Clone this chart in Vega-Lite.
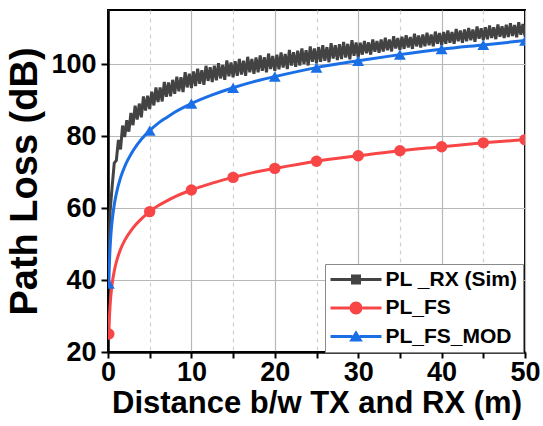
{
  "$schema": "https://vega.github.io/schema/vega-lite/v6.json",
  "width": 417,
  "height": 342,
  "autosize": {"type": "none"},
  "padding": {"left": 108, "top": 10, "right": 18, "bottom": 74},
  "background": "white",
  "config": {"view": {"stroke": "black", "strokeWidth": 2}, "font": "Liberation Sans"},
  "datasets": {
    "sim": [
      {"x": 0.1, "y": 47}, {"x": 0.25, "y": 59}, {"x": 0.5, "y": 66}, {"x": 0.75, "y": 72.5},
      {"x": 1.0, "y": 73.2}, {"x": 1.25, "y": 78.9}, {"x": 1.5, "y": 76.3}, {"x": 1.75, "y": 82.9},
      {"x": 2.0, "y": 79.7}, {"x": 2.25, "y": 84.4}, {"x": 2.5, "y": 81.2}, {"x": 2.75, "y": 86.4},
      {"x": 3.0, "y": 83.0}, {"x": 3.25, "y": 88.4}, {"x": 3.5, "y": 84.6}, {"x": 3.75, "y": 89.0},
      {"x": 4.0, "y": 85.2}, {"x": 4.25, "y": 91.0}, {"x": 4.5, "y": 87.1}, {"x": 4.75, "y": 91.2},
      {"x": 5.0, "y": 87.5}, {"x": 5.25, "y": 92.3}, {"x": 5.5, "y": 88.5}, {"x": 5.75, "y": 93.5},
      {"x": 6.0, "y": 89.4}, {"x": 6.25, "y": 93.5}, {"x": 6.5, "y": 89.6}, {"x": 6.75, "y": 95.0},
      {"x": 7.0, "y": 90.9}, {"x": 7.25, "y": 94.9}, {"x": 7.5, "y": 91.0}, {"x": 7.75, "y": 95.6},
      {"x": 8.0, "y": 91.7}, {"x": 8.25, "y": 96.5}, {"x": 8.5, "y": 92.4}, {"x": 8.75, "y": 96.3},
      {"x": 9.0, "y": 92.2}, {"x": 9.25, "y": 97.7}, {"x": 9.5, "y": 93.5}, {"x": 9.75, "y": 97.3},
      {"x": 10.0, "y": 93.3}, {"x": 10.25, "y": 97.9}, {"x": 10.5, "y": 93.9}, {"x": 10.75, "y": 98.7},
      {"x": 11.0, "y": 94.5}, {"x": 11.25, "y": 98.3}, {"x": 11.5, "y": 94.2}, {"x": 11.75, "y": 99.5},
      {"x": 12.0, "y": 95.3}, {"x": 12.25, "y": 99.1}, {"x": 12.5, "y": 95.0}, {"x": 12.75, "y": 99.5},
      {"x": 13.0, "y": 95.5}, {"x": 13.25, "y": 100.2}, {"x": 13.5, "y": 96.0}, {"x": 13.75, "y": 99.7},
      {"x": 14.0, "y": 95.6}, {"x": 14.25, "y": 101.0}, {"x": 14.5, "y": 96.6}, {"x": 14.75, "y": 100.4},
      {"x": 15.0, "y": 96.3}, {"x": 15.25, "y": 100.8}, {"x": 15.5, "y": 96.7}, {"x": 15.75, "y": 101.4},
      {"x": 16.0, "y": 97.1}, {"x": 16.25, "y": 100.9}, {"x": 16.5, "y": 96.7}, {"x": 16.75, "y": 102.0},
      {"x": 17.0, "y": 97.7}, {"x": 17.25, "y": 101.4}, {"x": 17.5, "y": 97.3}, {"x": 17.75, "y": 101.8},
      {"x": 18.0, "y": 97.7}, {"x": 18.25, "y": 102.4}, {"x": 18.5, "y": 98.1}, {"x": 18.75, "y": 101.9},
      {"x": 19.0, "y": 97.7}, {"x": 19.25, "y": 102.9}, {"x": 19.5, "y": 98.6}, {"x": 19.75, "y": 102.2},
      {"x": 20.0, "y": 98.1}, {"x": 20.25, "y": 102.6}, {"x": 20.5, "y": 98.5}, {"x": 20.75, "y": 103.2},
      {"x": 21.0, "y": 99.0}, {"x": 21.25, "y": 102.8}, {"x": 21.5, "y": 98.6}, {"x": 21.75, "y": 103.9},
      {"x": 22.0, "y": 99.6}, {"x": 22.25, "y": 103.3}, {"x": 22.5, "y": 99.2}, {"x": 22.75, "y": 103.7},
      {"x": 23.0, "y": 99.6}, {"x": 23.25, "y": 104.3}, {"x": 23.5, "y": 100.0}, {"x": 23.75, "y": 103.8},
      {"x": 24.0, "y": 99.6}, {"x": 24.25, "y": 104.9}, {"x": 24.5, "y": 100.6}, {"x": 24.75, "y": 104.3},
      {"x": 25.0, "y": 100.2}, {"x": 25.25, "y": 104.7}, {"x": 25.5, "y": 100.6}, {"x": 25.75, "y": 105.2},
      {"x": 26.0, "y": 100.9}, {"x": 26.25, "y": 104.7}, {"x": 26.5, "y": 100.5}, {"x": 26.75, "y": 105.8},
      {"x": 27.0, "y": 101.5}, {"x": 27.25, "y": 105.2}, {"x": 27.5, "y": 101.1}, {"x": 27.75, "y": 105.5},
      {"x": 28.0, "y": 101.4}, {"x": 28.25, "y": 106.1}, {"x": 28.5, "y": 101.8}, {"x": 28.75, "y": 105.6},
      {"x": 29.0, "y": 101.3}, {"x": 29.25, "y": 106.6}, {"x": 29.5, "y": 102.3}, {"x": 29.75, "y": 106.0},
      {"x": 30.0, "y": 101.8}, {"x": 30.25, "y": 105.9}, {"x": 30.5, "y": 102.6}, {"x": 30.75, "y": 106.4},
      {"x": 31.0, "y": 103.0}, {"x": 31.25, "y": 106.0}, {"x": 31.5, "y": 102.6}, {"x": 31.75, "y": 106.8},
      {"x": 32.0, "y": 103.4}, {"x": 32.25, "y": 106.4}, {"x": 32.5, "y": 103.1}, {"x": 32.75, "y": 106.8},
      {"x": 33.0, "y": 103.5}, {"x": 33.25, "y": 107.3}, {"x": 33.5, "y": 103.8}, {"x": 33.75, "y": 106.8},
      {"x": 34.0, "y": 103.5}, {"x": 34.25, "y": 107.7}, {"x": 34.5, "y": 104.3}, {"x": 34.75, "y": 107.2},
      {"x": 35.0, "y": 103.9}, {"x": 35.25, "y": 107.6}, {"x": 35.5, "y": 104.2}, {"x": 35.75, "y": 108.0},
      {"x": 36.0, "y": 104.6}, {"x": 36.25, "y": 107.5}, {"x": 36.5, "y": 104.2}, {"x": 36.75, "y": 108.4},
      {"x": 37.0, "y": 104.9}, {"x": 37.25, "y": 107.9}, {"x": 37.5, "y": 104.6}, {"x": 37.75, "y": 108.2},
      {"x": 38.0, "y": 104.9}, {"x": 38.25, "y": 108.7}, {"x": 38.5, "y": 105.2}, {"x": 38.75, "y": 108.2},
      {"x": 39.0, "y": 104.9}, {"x": 39.25, "y": 109.0}, {"x": 39.5, "y": 105.6}, {"x": 39.75, "y": 108.6},
      {"x": 40.0, "y": 105.2}, {"x": 40.25, "y": 108.9}, {"x": 40.5, "y": 105.6}, {"x": 40.75, "y": 109.3},
      {"x": 41.0, "y": 105.9}, {"x": 41.25, "y": 108.9}, {"x": 41.5, "y": 105.6}, {"x": 41.75, "y": 109.7},
      {"x": 42.0, "y": 106.3}, {"x": 42.25, "y": 109.3}, {"x": 42.5, "y": 105.9}, {"x": 42.75, "y": 109.6},
      {"x": 43.0, "y": 106.3}, {"x": 43.25, "y": 110.0}, {"x": 43.5, "y": 106.6}, {"x": 43.75, "y": 109.6},
      {"x": 44.0, "y": 106.2}, {"x": 44.25, "y": 110.4}, {"x": 44.5, "y": 107.0}, {"x": 44.75, "y": 109.9},
      {"x": 45.0, "y": 106.6}, {"x": 45.25, "y": 110.2}, {"x": 45.5, "y": 106.9}, {"x": 45.75, "y": 110.7},
      {"x": 46.0, "y": 107.2}, {"x": 46.25, "y": 110.2}, {"x": 46.5, "y": 106.9}, {"x": 46.75, "y": 111.0},
      {"x": 47.0, "y": 107.6}, {"x": 47.25, "y": 110.5}, {"x": 47.5, "y": 107.2}, {"x": 47.75, "y": 110.9},
      {"x": 48.0, "y": 107.5}, {"x": 48.25, "y": 111.3}, {"x": 48.5, "y": 107.8}, {"x": 48.75, "y": 110.8},
      {"x": 49.0, "y": 107.4}, {"x": 49.25, "y": 111.6}, {"x": 49.5, "y": 108.1}, {"x": 49.75, "y": 111.1},
      {"x": 50.0, "y": 107.7}
    ],
    "model": [
      {"x": 0.1, "y": 25.0, "s": "PL_FS"}, {"x": 0.15, "y": 28.5, "s": "PL_FS"}, {"x": 0.2, "y": 31.0, "s": "PL_FS"},
      {"x": 0.3, "y": 34.5, "s": "PL_FS"}, {"x": 0.4, "y": 37.0, "s": "PL_FS"}, {"x": 0.5, "y": 39.0, "s": "PL_FS"},
      {"x": 0.75, "y": 42.5, "s": "PL_FS"}, {"x": 1, "y": 45.0, "s": "PL_FS"}, {"x": 1.5, "y": 48.5, "s": "PL_FS"},
      {"x": 2, "y": 51.0, "s": "PL_FS"}, {"x": 3, "y": 54.5, "s": "PL_FS"}, {"x": 4, "y": 57.0, "s": "PL_FS"},
      {"x": 5, "y": 59.0, "s": "PL_FS"}, {"x": 6, "y": 60.6, "s": "PL_FS"}, {"x": 7, "y": 61.9, "s": "PL_FS"},
      {"x": 8, "y": 63.1, "s": "PL_FS"}, {"x": 10, "y": 65.0, "s": "PL_FS"}, {"x": 12.5, "y": 66.9, "s": "PL_FS"},
      {"x": 15, "y": 68.5, "s": "PL_FS"}, {"x": 17.5, "y": 69.9, "s": "PL_FS"}, {"x": 20, "y": 71.0, "s": "PL_FS"},
      {"x": 25, "y": 73.0, "s": "PL_FS"}, {"x": 30, "y": 74.5, "s": "PL_FS"}, {"x": 35, "y": 75.9, "s": "PL_FS"},
      {"x": 40, "y": 77.0, "s": "PL_FS"}, {"x": 45, "y": 78.1, "s": "PL_FS"}, {"x": 50, "y": 79.0, "s": "PL_FS"},
      {"x": 0.1, "y": 39.0, "s": "PL_FS_MOD"}, {"x": 0.15, "y": 43.4, "s": "PL_FS_MOD"}, {"x": 0.2, "y": 46.5, "s": "PL_FS_MOD"},
      {"x": 0.3, "y": 50.9, "s": "PL_FS_MOD"}, {"x": 0.4, "y": 54.1, "s": "PL_FS_MOD"}, {"x": 0.5, "y": 56.5, "s": "PL_FS_MOD"},
      {"x": 0.75, "y": 60.9, "s": "PL_FS_MOD"}, {"x": 1, "y": 64.0, "s": "PL_FS_MOD"}, {"x": 1.5, "y": 68.4, "s": "PL_FS_MOD"},
      {"x": 2, "y": 71.5, "s": "PL_FS_MOD"}, {"x": 3, "y": 75.9, "s": "PL_FS_MOD"}, {"x": 4, "y": 79.1, "s": "PL_FS_MOD"},
      {"x": 5, "y": 81.5, "s": "PL_FS_MOD"}, {"x": 6, "y": 83.5, "s": "PL_FS_MOD"}, {"x": 7, "y": 85.1, "s": "PL_FS_MOD"},
      {"x": 8, "y": 86.6, "s": "PL_FS_MOD"}, {"x": 10, "y": 89.0, "s": "PL_FS_MOD"}, {"x": 12.5, "y": 91.4, "s": "PL_FS_MOD"},
      {"x": 15, "y": 93.4, "s": "PL_FS_MOD"}, {"x": 17.5, "y": 95.1, "s": "PL_FS_MOD"}, {"x": 20, "y": 96.5, "s": "PL_FS_MOD"},
      {"x": 25, "y": 99.0, "s": "PL_FS_MOD"}, {"x": 30, "y": 100.9, "s": "PL_FS_MOD"}, {"x": 35, "y": 102.6, "s": "PL_FS_MOD"},
      {"x": 40, "y": 104.1, "s": "PL_FS_MOD"}, {"x": 45, "y": 105.3, "s": "PL_FS_MOD"}, {"x": 50, "y": 106.5, "s": "PL_FS_MOD"}
    ]
  },
  "layer": [
    {
      "data": {"name": "sim"},
      "mark": {"type": "line", "strokeWidth": 3, "clip": true},
      "encoding": {
        "x": {
          "field": "x", "type": "quantitative",
          "scale": {"domain": [0, 50], "nice": false},
          "axis": {
            "values": [0, 5, 10, 15, 20, 25, 30, 35, 40, 45, 50],
            "labelExpr": "datum.value % 10 == 0 ? datum.label : ''",
            "title": "Distance b/w TX and RX (m)",
            "grid": true,
            "gridColor": {"condition": {"test": "datum.value % 10 == 0", "value": "#b8b8b8"}, "value": "#d0d0d0"},
            "gridDash": {"condition": {"test": "datum.value % 10 == 0", "value": []}, "value": [4, 4]},
            "gridWidth": 1.2,
            "tickSize": 6, "tickWidth": 2, "tickColor": "black",
            "domainColor": "black", "domainWidth": 2.5,
            "labelFont": "Liberation Sans", "labelFontSize": 27, "labelFontWeight": "bold", "labelColor": "black",
            "labelPadding": 1, "labelFlush": false, "labelOverlap": false,
            "titleFont": "Liberation Sans", "titleFontSize": 31, "titleFontWeight": "bold", "titleColor": "black",
            "titlePadding": 3
          }
        },
        "y": {
          "field": "y", "type": "quantitative",
          "scale": {"domain": [20, 115], "nice": false, "zero": false},
          "axis": {
            "values": [20, 30, 40, 50, 60, 70, 80, 90, 100, 110],
            "labelExpr": "datum.value % 20 == 0 ? datum.label : ''",
            "title": "Path Loss (dB)",
            "grid": true,
            "gridColor": {"condition": {"test": "datum.value % 20 == 0", "value": "#b8b8b8"}, "value": "#d0d0d0"},
            "gridDash": {"condition": {"test": "datum.value % 20 == 0", "value": []}, "value": [4, 4]},
            "gridWidth": 1.2,
            "tickSize": 7, "tickWidth": 2, "tickColor": "black",
            "domainColor": "black", "domainWidth": 2.5,
            "labelFont": "Liberation Sans", "labelFontSize": 27, "labelFontWeight": "bold", "labelColor": "black",
            "labelPadding": 5, "labelOverlap": false,
            "titleFont": "Liberation Sans", "titleFontSize": 38, "titleFontWeight": "bold", "titleColor": "black",
            "titlePadding": 6
          }
        },
        "color": {
          "datum": "PL _RX (Sim)",
          "type": "nominal",
          "title": null,
          "scale": {"domain": ["PL _RX (Sim)", "PL_FS", "PL_FS_MOD"], "range": ["#434343", "#f84646", "#1b6fe6"]},
          "legend": {
            "orient": "none", "legendX": 217, "legendY": 254,
            "title": null,
            "fillColor": "white", "strokeColor": "#8a8a8a",
            "padding": 5,
            "symbolSize": 400,
            "symbolOffset": 15.5,
            "labelFont": "Liberation Sans", "labelFontSize": 21, "labelFontWeight": "bold", "labelColor": "black",
            "labelOffset": 19, "rowPadding": 6.5,
            "encode": {
              "symbols": {
                "update": {
                  "shape": {"signal": "datum.value == 'PL _RX (Sim)' ? 'M-2.55,-0.15H-0.5V0.15H-2.55Z M0.5,-0.15H2.55V0.15H0.5Z M-0.5,-0.5H0.5V0.5H-0.5Z' : datum.value == 'PL_FS' ? 'M-2.55,-0.15H-0.65V0.15H-2.55Z M0.65,-0.15H2.55V0.15H0.65Z M-0.65,0A0.65,0.65 0 1,0 0.65,0A0.65,0.65 0 1,0 -0.65,0Z' : 'M-2.55,-0.15H-0.35V0.15H-2.55Z M0.35,-0.15H2.55V0.15H0.35Z M0,-0.62L0.68,0.5L-0.68,0.5Z'"},
                  "fill": {"signal": "scale('color', datum.value)"},
                  "stroke": {"value": "transparent"},
                  "strokeWidth": {"value": 0},
                  "opacity": {"value": 1},
                  "size": {"value": 400}
                }
              }
            }
          }
        }
      }
    },
    {
      "data": {"name": "model"},
      "mark": {"type": "line", "strokeWidth": 3, "interpolate": "monotone", "clip": true},
      "encoding": {
        "x": {"field": "x", "type": "quantitative"},
        "y": {"field": "y", "type": "quantitative"},
        "color": {"field": "s", "type": "nominal", "title": null, "legend": null}
      }
    },
    {
      "data": {"name": "model"},
      "transform": [{"filter": "datum.s == 'PL_FS' && (datum.x == 0.1 || datum.x % 5 == 0)"}],
      "mark": {"type": "point", "shape": "circle", "filled": true, "opacity": 1, "size": 130, "clip": true},
      "encoding": {
        "x": {"field": "x", "type": "quantitative"},
        "y": {"field": "y", "type": "quantitative"},
        "color": {"field": "s", "type": "nominal", "title": null, "legend": null}
      }
    },
    {
      "data": {"name": "model"},
      "transform": [{"filter": "datum.s == 'PL_FS_MOD' && (datum.x == 0.1 || datum.x % 5 == 0)"}],
      "mark": {"type": "point", "shape": "triangle-up", "filled": true, "opacity": 1, "size": 140, "clip": true},
      "encoding": {
        "x": {"field": "x", "type": "quantitative"},
        "y": {"field": "y", "type": "quantitative"},
        "color": {"field": "s", "type": "nominal", "title": null, "legend": null}
      }
    }
  ]
}
